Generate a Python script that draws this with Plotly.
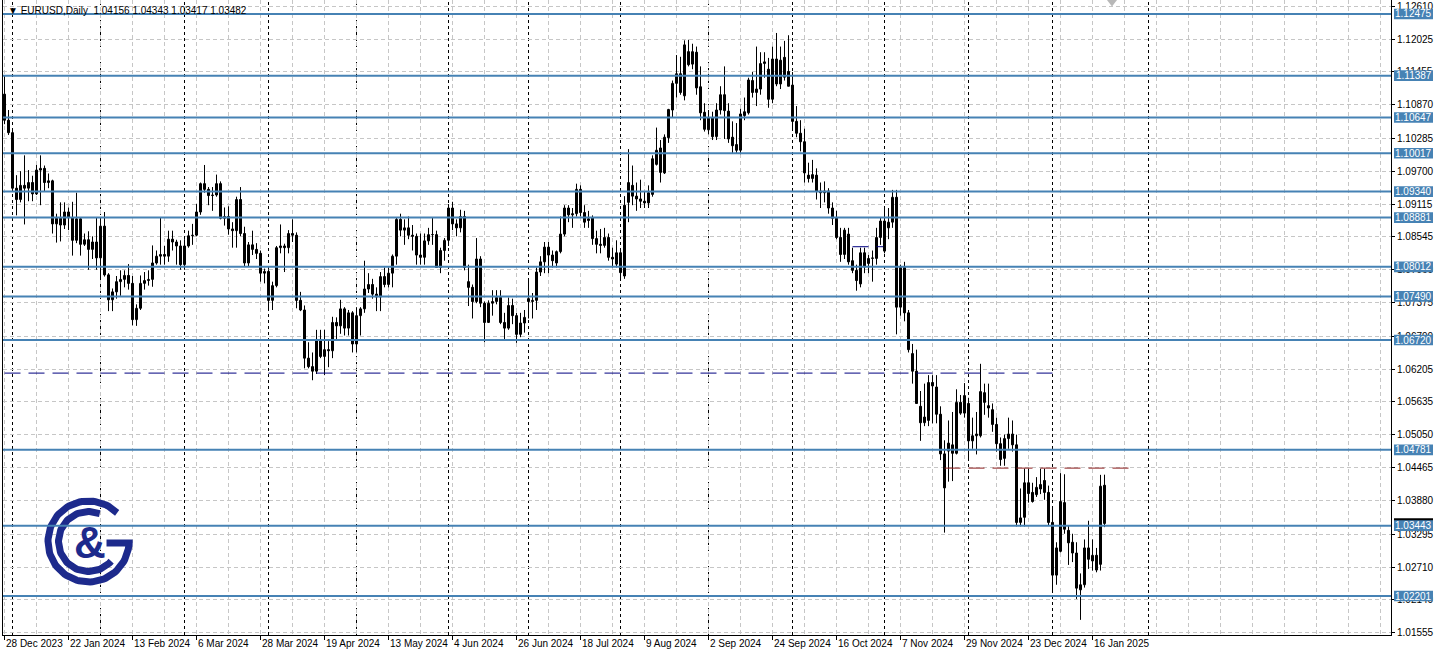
import numpy as np
import pandas as pd
import plotly.graph_objects as go

# ---------------- data ----------------
holidays = ["2024-01-01", "2024-12-25", "2025-01-01"]
dates = [d for d in pd.bdate_range("2023-12-28", "2025-01-21")
         if d.strftime("%Y-%m-%d") not in holidays]

opens = [
    1.1106, 1.1060,
    1.1038, 1.0940, 1.0920, 1.0945, 1.0940, 1.0950, 1.0930, 1.0972, 1.0975, 1.0950, 1.0953, 1.0877, 1.0887, 1.0875,
    1.0898, 1.0888, 1.0848, 1.0886, 1.0841, 1.0849, 1.0832, 1.0845,
    1.0817, 1.0873, 1.0787, 1.0743, 1.0757, 1.0775, 1.0779, 1.0786, 1.0772, 1.0708, 1.0728, 1.0772, 1.0777, 1.0779,
    1.0808, 1.0820, 1.0823, 1.0820, 1.0850, 1.0845, 1.0838,
    1.0805, 1.0838, 1.0856, 1.0857, 1.0898, 1.0948, 1.0938, 1.0927, 1.0928, 1.0948, 1.0887, 1.0890, 1.0868, 1.0865,
    1.0920, 1.0860, 1.0808, 1.0840, 1.0832, 1.0825, 1.0790,
    1.0793, 1.0742, 1.0768, 1.0835, 1.0838, 1.0835, 1.0860, 1.0857, 1.0742, 1.0725, 1.0640, 1.0625, 1.0617, 1.0673,
    1.0643, 1.0655, 1.0653, 1.0703, 1.0697, 1.0727, 1.0693, 1.0720,
    1.0665, 1.0715, 1.0727, 1.0762, 1.0770, 1.0753, 1.0748, 1.0784, 1.0770, 1.0790, 1.0820, 1.0885, 1.0866, 1.0870,
    1.0857, 1.0855, 1.0822, 1.0818, 1.0847, 1.0858, 1.0858, 1.0800, 1.0830,
    1.0848, 1.0905, 1.0877, 1.0870, 1.0890, 1.0775, 1.0765, 1.0740, 1.0815, 1.0737, 1.0703, 1.0737, 1.0740, 1.0747,
    1.0703, 1.0693, 1.0733, 1.0715, 1.0682, 1.0702,
    1.0745, 1.0740, 1.0742, 1.0792, 1.0810, 1.0836, 1.0822, 1.0808, 1.0828, 1.0859, 1.0905, 1.0893, 1.0895, 1.0938,
    1.0897, 1.0886, 1.0888, 1.0851, 1.0841, 1.0839, 1.0853, 1.0818, 1.0806,
    1.0826, 1.0785, 1.0915, 1.0945, 1.0926, 1.0921, 1.0917, 1.0914, 1.0929, 1.0982, 1.1011, 1.0967, 1.1029, 1.1078,
    1.1125, 1.1142, 1.1103, 1.1181, 1.1159, 1.1180, 1.1119, 1.1074,
    1.1043, 1.1064, 1.1031, 1.1078, 1.1105, 1.1076, 1.1030, 1.1017, 1.1007, 1.1068, 1.1073, 1.1130, 1.1109, 1.1115,
    1.1160, 1.1150, 1.1097, 1.1168, 1.1124, 1.1171, 1.1146,
    1.1122, 1.1058, 1.1037, 1.1022, 1.0963, 1.0957, 1.0963, 1.0935, 1.0932, 1.0935, 1.0905, 1.0887, 1.0853, 1.0823,
    1.0859, 1.0812, 1.0795, 1.0771, 1.0826, 1.0807, 1.0816, 1.0816, 1.0853,
    1.0882, 1.0870, 1.0880, 1.0924, 1.0730, 1.0800, 1.0720, 1.0648, 1.0617, 1.0555, 1.0526, 1.0530, 1.0597, 1.0589,
    1.0541, 1.0471, 1.0476, 1.0472, 1.0472, 1.0562, 1.0543,
    1.0560, 1.0494, 1.0503, 1.0503, 1.0579, 1.0556, 1.0549, 1.0523, 1.0489, 1.0463, 1.0498, 1.0506, 1.0487, 1.0350,
    1.0359, 1.0420, 1.0403, 1.0399, 1.0409, 1.0424, 1.0403,
    1.0350, 1.0257, 1.0299, 1.0385, 1.0336, 1.0315, 1.0296, 1.0231, 1.0240, 1.0305, 1.0282, 1.0292, 1.0276, 1.04156,
]
highs = [
    1.1139, 1.1078,
    1.1045, 1.0963, 1.0970, 1.0998, 1.0972, 1.0962, 1.0981, 1.0998, 1.0980, 1.0966, 1.0955, 1.0895, 1.0915, 1.0915,
    1.0906, 1.0916, 1.0932, 1.0888, 1.0860, 1.0864, 1.0855, 1.0888,
    1.0889, 1.0898, 1.0790, 1.0763, 1.0785, 1.0795, 1.0795, 1.0806, 1.0785, 1.0735, 1.0786, 1.0792, 1.0795, 1.0839,
    1.0830, 1.0888, 1.0838, 1.0865, 1.0865, 1.0849, 1.0848,
    1.0850, 1.0865, 1.0877, 1.0912, 1.0950, 1.0981, 1.0942, 1.0942, 1.0964, 1.0952, 1.0906, 1.0908, 1.0880, 1.0925,
    1.0942, 1.0872, 1.0845, 1.0865, 1.0843, 1.0830, 1.0798,
    1.0797, 1.0775, 1.0838, 1.0876, 1.0842, 1.0866, 1.0885, 1.0862, 1.0757, 1.0733, 1.0668, 1.0650, 1.0690, 1.0690,
    1.0690, 1.0670, 1.0713, 1.0712, 1.0743, 1.0730, 1.0725, 1.0723,
    1.0730, 1.0730, 1.0812, 1.0790, 1.0780, 1.0765, 1.0792, 1.0800, 1.0800, 1.0823, 1.0888, 1.0895, 1.0885, 1.0890,
    1.0875, 1.0860, 1.0860, 1.0860, 1.0870, 1.0888, 1.0865, 1.0835, 1.0852,
    1.0912, 1.0916, 1.0885, 1.0902, 1.0900, 1.0805, 1.0770, 1.0852, 1.0820, 1.0740, 1.0742, 1.0760, 1.0760, 1.0760,
    1.0720, 1.0747, 1.0745, 1.0720, 1.0720, 1.0725,
    1.0777, 1.0755, 1.0800, 1.0820, 1.0845, 1.0845, 1.0830, 1.0830, 1.0890, 1.0910, 1.0910, 1.0905, 1.0948, 1.0945,
    1.0910, 1.0900, 1.0892, 1.0865, 1.0868, 1.0870, 1.0860, 1.0835, 1.0848,
    1.0830, 1.0926, 1.1009, 1.0980, 1.0950, 1.0955, 1.0935, 1.0945, 1.0998, 1.1047, 1.1025, 1.1035, 1.1080, 1.1130,
    1.1175, 1.1172, 1.1201, 1.1202, 1.1195, 1.1190, 1.1155, 1.1090,
    1.1075, 1.1075, 1.1090, 1.1120, 1.1155, 1.1090, 1.1058, 1.1055, 1.1080, 1.1100, 1.1135, 1.1145, 1.1190, 1.1180,
    1.1180, 1.1170, 1.1190, 1.1214, 1.1190, 1.1200, 1.1210,
    1.1145, 1.1085, 1.1060, 1.1045, 1.0985, 1.0990, 1.0975, 1.0950, 1.0952, 1.0940, 1.0915, 1.0900, 1.0870, 1.0870,
    1.0870, 1.0835, 1.0805, 1.0835, 1.0835, 1.0822, 1.0830, 1.0870, 1.0888,
    1.0905, 1.0905, 1.0937, 1.0937, 1.0805, 1.0810, 1.0725, 1.0665, 1.0655, 1.0582, 1.0595, 1.0610, 1.0610, 1.0610,
    1.0555, 1.0495, 1.0530, 1.0545, 1.0585, 1.0575, 1.0596,
    1.0570, 1.0535, 1.0545, 1.0630, 1.0595, 1.0595, 1.0560, 1.0535, 1.0500, 1.0505, 1.0535, 1.0530, 1.0505, 1.0410,
    1.0445, 1.0445, 1.0420, 1.0430, 1.0445, 1.0445, 1.0415,
    1.0375, 1.0315, 1.0437, 1.0435, 1.0345, 1.0330, 1.0315, 1.0260, 1.0320, 1.0353, 1.0320, 1.0305, 1.0434, 1.04343,
]
lows = [
    1.1053, 1.1034,
    1.0937, 1.0892, 1.0915, 1.0876, 1.0917, 1.0917, 1.0928, 1.0910, 1.0935, 1.0940, 1.0860, 1.0844, 1.0846, 1.0868,
    1.0866, 1.0821, 1.0843, 1.0821, 1.0838, 1.0796, 1.0815, 1.0796,
    1.0780, 1.0784, 1.0723, 1.0723, 1.0745, 1.0750, 1.0765, 1.0761, 1.0698, 1.0697, 1.0725, 1.0761, 1.0768, 1.0766,
    1.0805, 1.0805, 1.0805, 1.0810, 1.0830, 1.0805, 1.0796,
    1.0796, 1.0835, 1.0840, 1.0855, 1.0893, 1.0932, 1.0910, 1.0900, 1.0925, 1.0885, 1.0874, 1.0858, 1.0835, 1.0835,
    1.0855, 1.0802, 1.0802, 1.0822, 1.0815, 1.0775, 1.0772,
    1.0725, 1.0725, 1.0765, 1.0825, 1.0792, 1.0825, 1.0845, 1.0728, 1.0723, 1.0622, 1.0622, 1.0601, 1.0612, 1.0640,
    1.0610, 1.0624, 1.0640, 1.0672, 1.0683, 1.0680, 1.0680, 1.0650,
    1.0650, 1.0680, 1.0720, 1.0755, 1.0745, 1.0723, 1.0723, 1.0765, 1.0765, 1.0765, 1.0805, 1.0855, 1.0840, 1.0850,
    1.0830, 1.0805, 1.0805, 1.0805, 1.0840, 1.0840, 1.0800, 1.0790, 1.0812,
    1.0838, 1.0866, 1.0855, 1.0862, 1.0795, 1.0732, 1.0710, 1.0737, 1.0730, 1.0668, 1.0702, 1.0715, 1.0735, 1.0700,
    1.0672, 1.0690, 1.0700, 1.0667, 1.0677, 1.0685,
    1.0710, 1.0710, 1.0725, 1.0785, 1.0790, 1.0790, 1.0800, 1.0800, 1.0825, 1.0855, 1.0880, 1.0870, 1.0890, 1.0890,
    1.0870, 1.0870, 1.0840, 1.0825, 1.0825, 1.0835, 1.0812, 1.0800, 1.0800,
    1.0777, 1.0780, 1.0880, 1.0910, 1.0900, 1.0905, 1.0905, 1.0905, 1.0925, 1.0980, 1.0950, 1.0965, 1.1020, 1.1065,
    1.1100, 1.1105, 1.1095, 1.1155, 1.1150, 1.1105, 1.1060, 1.1040,
    1.1035, 1.1025, 1.1025, 1.1070, 1.1027, 1.1020, 1.1002, 1.1002, 1.1000, 1.1060, 1.1070, 1.1100, 1.1085, 1.1105,
    1.1135, 1.1082, 1.1090, 1.1120, 1.1115, 1.1130, 1.1120,
    1.1045, 1.1030, 1.1005, 1.0950, 1.0950, 1.0950, 1.0920, 1.0905, 1.0915, 1.0895, 1.0875, 1.0850, 1.0810, 1.0815,
    1.0805, 1.0790, 1.0759, 1.0765, 1.0790, 1.0790, 1.0775, 1.0805, 1.0840,
    1.0825, 1.0850, 1.0870, 1.0682, 1.0715, 1.0705, 1.0650, 1.0595, 1.0560, 1.0494, 1.0520, 1.0520, 1.0525, 1.0525,
    1.0460, 1.0332, 1.0422, 1.0423, 1.0470, 1.0540, 1.0535,
    1.0460, 1.0480, 1.0470, 1.0500, 1.0540, 1.0535, 1.0510, 1.0475, 1.0450, 1.0450, 1.0480, 1.0475, 1.0343, 1.0343,
    1.0343, 1.0385, 1.0385, 1.0395, 1.0400, 1.0390, 1.0345,
    1.0226, 1.0240, 1.0297, 1.0330, 1.0275, 1.0280, 1.0215, 1.0178, 1.0235, 1.0268, 1.0265, 1.0262, 1.0265, 1.03417,
]
closes = [
    1.1060, 1.1038,
    1.0940, 1.0920, 1.0945, 1.0940, 1.0950, 1.0930, 1.0972, 1.0975, 1.0950, 1.0953, 1.0877, 1.0887, 1.0875, 1.0898,
    1.0888, 1.0848, 1.0886, 1.0841, 1.0849, 1.0832, 1.0845, 1.0817,
    1.0873, 1.0787, 1.0743, 1.0757, 1.0775, 1.0779, 1.0786, 1.0772, 1.0708, 1.0728, 1.0772, 1.0777, 1.0779, 1.0808,
    1.0820, 1.0823, 1.0820, 1.0850, 1.0845, 1.0838, 1.0805,
    1.0838, 1.0856, 1.0857, 1.0898, 1.0948, 1.0938, 1.0927, 1.0928, 1.0948, 1.0887, 1.0890, 1.0868, 1.0865, 1.0920,
    1.0860, 1.0808, 1.0840, 1.0832, 1.0825, 1.0790, 1.0793,
    1.0742, 1.0768, 1.0835, 1.0838, 1.0835, 1.0860, 1.0857, 1.0742, 1.0725, 1.0640, 1.0625, 1.0617, 1.0673, 1.0643,
    1.0655, 1.0653, 1.0703, 1.0697, 1.0727, 1.0693, 1.0720, 1.0665,
    1.0715, 1.0727, 1.0762, 1.0770, 1.0753, 1.0748, 1.0784, 1.0770, 1.0790, 1.0820, 1.0885, 1.0866, 1.0870, 1.0857,
    1.0855, 1.0822, 1.0818, 1.0847, 1.0858, 1.0858, 1.0800, 1.0830, 1.0848,
    1.0905, 1.0877, 1.0870, 1.0890, 1.0800, 1.0765, 1.0740, 1.0815, 1.0737, 1.0703, 1.0737, 1.0740, 1.0747, 1.0703,
    1.0693, 1.0733, 1.0715, 1.0682, 1.0702, 1.0712,
    1.0740, 1.0742, 1.0792, 1.0810, 1.0836, 1.0822, 1.0812, 1.0828, 1.0859, 1.0905, 1.0893, 1.0895, 1.0938, 1.0897,
    1.0880, 1.0883, 1.0851, 1.0841, 1.0839, 1.0853, 1.0818, 1.0815, 1.0826,
    1.0791, 1.0910, 1.0950, 1.0926, 1.0921, 1.0917, 1.0914, 1.0932, 1.0992, 1.1007, 1.0968, 1.1030, 1.1079, 1.1125,
    1.1142, 1.1109, 1.1193, 1.1158, 1.1181, 1.1117, 1.1073, 1.1044,
    1.1064, 1.1031, 1.1078, 1.1105, 1.1077, 1.1027, 1.1015, 1.1007, 1.1071, 1.1075, 1.1131, 1.1109, 1.1115, 1.1160,
    1.1163, 1.1097, 1.1168, 1.1124, 1.1166, 1.1136, 1.1120,
    1.1058, 1.1037, 1.1022, 1.0967, 1.0957, 1.0964, 1.0935, 1.0932, 1.0935, 1.0905, 1.0887, 1.0853, 1.0823, 1.0866,
    1.0810, 1.0795, 1.0777, 1.0826, 1.0801, 1.0816, 1.0817, 1.0853, 1.0882,
    1.0829, 1.0880, 1.0924, 1.0730, 1.0800, 1.0720, 1.0655, 1.0617, 1.0560, 1.0526, 1.0536, 1.0597, 1.0591, 1.0541,
    1.0471, 1.0411, 1.0490, 1.0487, 1.0562, 1.0543, 1.0574,
    1.0494, 1.0503, 1.0506, 1.0581, 1.0562, 1.0552, 1.0523, 1.0489, 1.0461, 1.0498, 1.0506, 1.0487, 1.0350, 1.0358,
    1.0420, 1.0401, 1.0387, 1.0412, 1.0417, 1.0403, 1.0350,
    1.0257, 1.0305, 1.0387, 1.0338, 1.0314, 1.0296, 1.0234, 1.0240, 1.0305, 1.0285, 1.0292, 1.0266, 1.0414, 1.03482,
]

sr_levels = [1.12475, 1.11387, 1.10647, 1.10017, 1.09340, 1.08881, 1.08012,
             1.07490, 1.06720, 1.04781, 1.03443, 1.02201]
price_ticks = [1.12610, 1.12025, 1.11455, 1.10870, 1.10285, 1.09700, 1.09115,
               1.08545, 1.07960, 1.07375, 1.06790, 1.06205, 1.05635, 1.05050,
               1.04465, 1.03880, 1.03295, 1.02710, 1.02140, 1.01555]
bid_price = 1.03482
navy_level, navy_from, navy_to = 1.06136, 0, 264
red_level, red_from, red_to = 1.04459, 235, 281.5
short_level, short_from, short_to = 1.08367, 212, 219.7
future_separator = 286
header = "\u25BC EURUSD,Daily  1.04156 1.04343 1.03417 1.03482"

# ---------------- figure ----------------
W, H = 1437, 657
ML, MR, MT, MB = 3, 46, 0, 22
PW, PH = W - ML - MR, H - MT - MB
Y_TOP, Y_BOT = 1.12722, 1.01513
PX_PER_PRICE = PH / (Y_TOP - Y_BOT)
X0 = -0.375
X1 = X0 + PW / 4.0

n = len(dates)
idx = list(range(n))
FONT = "Liberation Sans, Arial, DejaVu Sans, sans-serif"

fig = go.Figure()

# wicks
wx, wy = [], []
for i in idx:
    wx += [i, i, None]
    wy += [lows[i], highs[i], None]
fig.add_trace(go.Scatter(x=wx, y=wy, mode="lines", line=dict(color="black", width=1),
                         hoverinfo="skip", showlegend=False))

# bodies
min_h = 0.00002
bull = [i for i in idx if closes[i] >= opens[i]]
bear = [i for i in idx if closes[i] < opens[i]]
for sel, fill in ((bull, "white"), (bear, "black")):
    fig.add_trace(go.Bar(
        x=sel,
        y=[max(abs(closes[i] - opens[i]), min_h) for i in sel],
        base=[min(opens[i], closes[i]) for i in sel],
        width=0.5,
        marker=dict(color=fill, line=dict(color="black", width=1)),
        hoverinfo="skip", showlegend=False))

shapes = []
# period separators (first bar of each month)
seps = [i for i in range(1, n) if dates[i].month != dates[i - 1].month] + [future_separator]
for s in seps:
    shapes.append(dict(type="line", xref="x", yref="paper", x0=s, x1=s, y0=0, y1=1,
                       line=dict(color="black", width=1, dash="3px,3px"), layer="below"))

# support / resistance lines
for lv in sr_levels:
    shapes.append(dict(type="line", xref="paper", yref="y", x0=0, x1=1, y0=lv, y1=lv,
                       line=dict(color="#4682B4", width=2), layer="above"))

# user dashed lines
for lv, a, b, col in ((navy_level, navy_from, navy_to, "#000080"),
                      (red_level, red_from, red_to, "#8b1c1c"),
                      (short_level, short_from, short_to, "#000080")):
    shapes.append(dict(type="line", xref="x", yref="y", x0=a, x1=b, y0=lv, y1=lv,
                       line=dict(color=col, width=1, dash="16px,8px"), layer="above"))

# price labels on axis
bx0 = (1394 - ML) / PW
bx1 = (1433 - ML) / PW
half = 5.3 / PX_PER_PRICE
annotations = []
shapes.append(dict(type="rect", xref="paper", yref="y", x0=bx0, x1=bx1,
                   y0=bid_price - half, y1=bid_price + half, fillcolor="black",
                   line=dict(width=0), layer="above"))
for lv in sr_levels:
    shapes.append(dict(type="rect", xref="paper", yref="y", x0=bx0, x1=bx1,
                       y0=lv - half, y1=lv + half, fillcolor="#4682B4",
                       line=dict(width=0), layer="above"))
    annotations.append(dict(xref="paper", yref="y", x=(bx0 + bx1) / 2, y=lv,
                            text=f"{lv:.5f}", showarrow=False, xanchor="center", yanchor="middle",
                            font=dict(family=FONT, size=10, color="white")))

# time labels
major = list(range(0, n, 16))
minor = [v for v in range(0, int(X1) + 1, 8) if v not in major]
for i in major:
    d = dates[i]
    annotations.append(dict(xref="x", yref="paper", x=i, y=0, xanchor="left", yanchor="top",
                            xshift=-1, yshift=-1, showarrow=False,
                            text=f"{d.day} {d.strftime('%b %Y')}",
                            font=dict(family=FONT, size=10, color="black")))

# header
annotations.append(dict(xref="x2", yref="y2", x=6, y=10, xanchor="left", yanchor="middle",
                        showarrow=False, text=header,
                        font=dict(family=FONT, size=10, color="black")))

# logo
logo_col = "#1d2a8c"
cx, cy = 88.5, 541.5
th = np.radians(np.linspace(45, 362, 100))
fig.add_trace(go.Scatter(x=cx + 40.5 * np.cos(th), y=cy - 40.5 * np.sin(th), xaxis="x2", yaxis="y2",
                         mode="lines", line=dict(color=logo_col, width=7), hoverinfo="skip",
                         showlegend=False))
fig.add_trace(go.Scatter(x=[cx + 44, cx + 18], y=[cy + 1.5, cy + 1.5], xaxis="x2", yaxis="y2",
                         mode="lines", line=dict(color=logo_col, width=7), hoverinfo="skip",
                         showlegend=False))
th2 = np.radians(np.linspace(68, 319, 90))
fig.add_trace(go.Scatter(x=cx + 30 * np.cos(th2), y=cy - 30 * np.sin(th2), xaxis="x2", yaxis="y2",
                         mode="lines", line=dict(color=logo_col, width=7), hoverinfo="skip",
                         showlegend=False))
annotations.append(dict(xref="x2", yref="y2", x=cx + 1, y=cy + 1, xanchor="center", yanchor="middle",
                        showarrow=False, text="&",
                        font=dict(family="Liberation Sans, Arial, sans-serif", size=44,
                                  color=logo_col, weight="bold")))
# shift marker
fig.add_trace(go.Scatter(x=[1112], y=[2], xaxis="x2", yaxis="y2", mode="markers",
                         marker=dict(symbol="triangle-down", size=9, color="#b8b8b8"),
                         cliponaxis=False, hoverinfo="skip", showlegend=False))

grid = dict(showgrid=True, gridcolor="#c6c6c6", gridwidth=1, griddash="4px,3px")

fig.update_layout(
    width=W, height=H,
    margin=dict(l=ML, r=MR, t=MT, b=MB, pad=0),
    paper_bgcolor="white", plot_bgcolor="white",
    barmode="overlay", showlegend=False,
    shapes=shapes, annotations=annotations,
    xaxis=dict(type="linear", range=[X0, X1], tickmode="array", tickvals=major,
               showticklabels=False, ticks="outside", ticklen=4, tickcolor="black",
               showline=True, linecolor="black", linewidth=1, mirror=False, zeroline=False,
               minor=dict(tickmode="array", tickvals=minor, ticks="", **grid),
               **grid),
    yaxis=dict(range=[Y_BOT, Y_TOP], side="right", tickmode="array", tickvals=price_ticks,
               ticktext=[f"{v:.5f}" for v in price_ticks], ticks="outside", ticklen=3,
               tickcolor="black", showline=True, linecolor="black", linewidth=1, mirror=True,
               zeroline=False, tickfont=dict(family=FONT, size=10, color="black"), **grid),
    xaxis2=dict(overlaying="x", range=[ML, ML + PW], visible=False),
    yaxis2=dict(overlaying="y", range=[PH, 0], visible=False),
)

fig.write_html(
    "out.html",
    config={"displayModeBar": False, "staticPlot": True},
    post_script="document.body.style.margin='0px';document.body.style.overflow='hidden';"
                "document.documentElement.style.overflow='hidden';",
)
